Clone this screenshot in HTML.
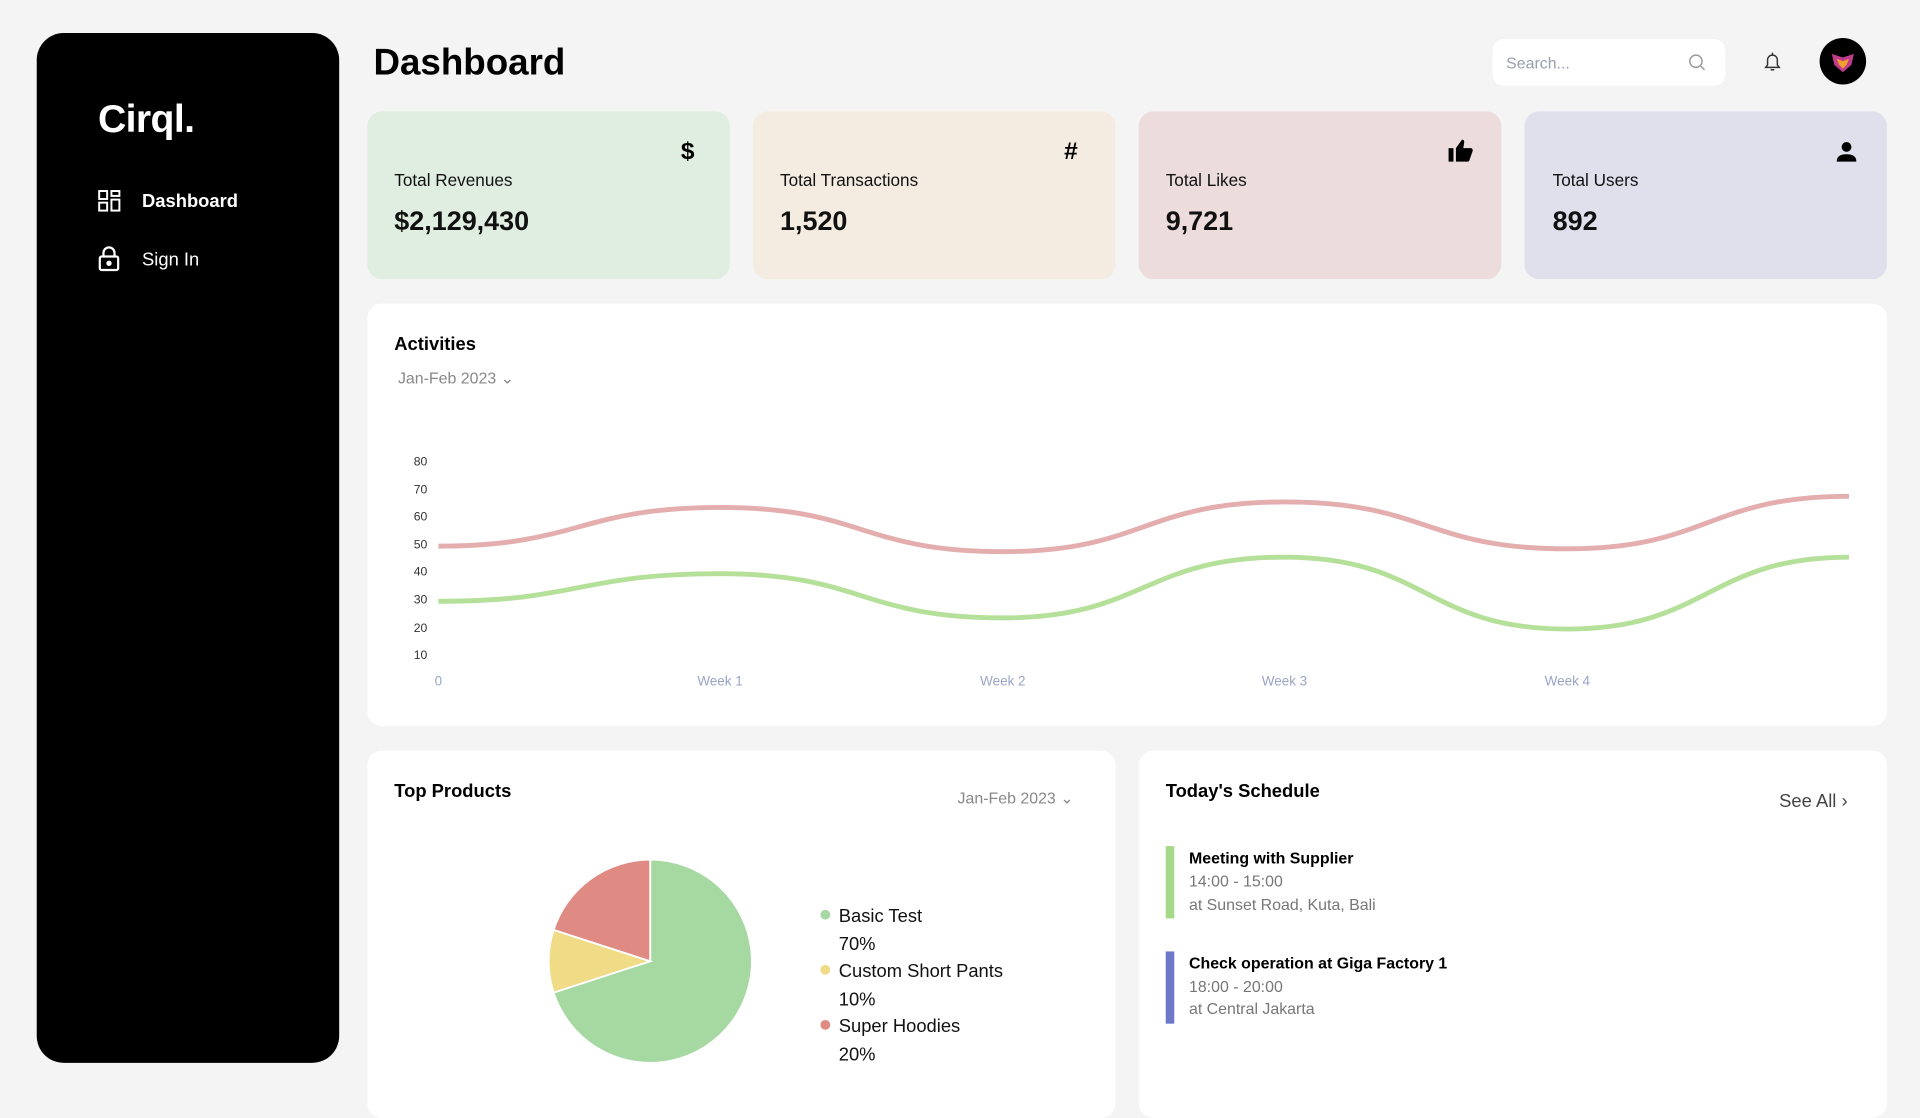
<!DOCTYPE html>
<html><head><meta charset="utf-8"><style>
html,body{margin:0;padding:0;width:1920px;height:1097px;overflow:hidden;background:#f4f4f4;font-family:"Liberation Sans",sans-serif}
#w{position:absolute;left:0;top:0;width:1568px;height:896px;transform:scale(1.22449);transform-origin:0 0}
.a{position:absolute;white-space:nowrap}
.card{position:absolute;border-radius:12px}
.t{font-size:14px;color:#111}
.v{font-size:22px;font-weight:bold;color:#111}
</style></head><body><div id="w">
<div class="card" style="left:30px;top:27px;width:247px;height:841px;background:#000;border-radius:22px"></div>
<div class="a" style="left:80px;top:79px;font-size:32px;font-weight:bold;color:#fff;letter-spacing:-0.5px">Cirql.</div>
<svg class="a" style="left:80px;top:155px" width="19" height="18" viewBox="0 0 19 18" fill="none" stroke="#fff" stroke-width="1.6"><rect x="1" y="1" width="6.5" height="6.5"/><rect x="11" y="1" width="6.5" height="4"/><rect x="1" y="10.5" width="6.5" height="6.5"/><rect x="11" y="8" width="6.5" height="9"/></svg>
<div class="a" style="left:116px;top:156px;font-size:15px;font-weight:bold;color:#fff">Dashboard</div>
<svg class="a" style="left:80px;top:201px" width="18" height="21" viewBox="0 0 18 21" fill="none" stroke="#fff" stroke-width="1.8"><rect x="1.5" y="8.5" width="15" height="11" rx="1.5"/><path d="M4.5 8.5V5.5a4.5 4.5 0 0 1 9 0v3"/><circle cx="9" cy="14" r="1.3" fill="#fff"/></svg>
<div class="a" style="left:116px;top:204px;font-size:15px;color:#fff">Sign In</div>

<div class="a" style="left:305px;top:35px;font-size:30px;font-weight:bold;color:#000">Dashboard</div>
<div class="card" style="left:1219px;top:32px;width:190px;height:38px;background:#fff;border-radius:9px"></div>
<div class="a" style="left:1230px;top:44px;font-size:13px;color:#9a9eab">Search...</div>
<svg class="a" style="left:1379px;top:44px" width="14" height="14" viewBox="0 0 14 14" fill="none" stroke="#999" stroke-width="1.2"><circle cx="6" cy="6" r="5"/><path d="M10 10l3 3"/></svg>
<svg class="a" style="left:1440px;top:42px" width="15" height="17" viewBox="0 0 15 17" fill="none" stroke="#333" stroke-width="1.2"><path d="M2 13h11l-1.5-2V7a4 4 0 0 0-8 0v4z"/><path d="M6 15h3"/><path d="M7.5 1v2"/></svg>
<div class="a" style="left:1486px;top:31px;width:38px;height:38px;border-radius:50%;background:#000"></div>
<svg class="a" style="left:1494px;top:40px" width="22" height="20" viewBox="0 0 22 20"><path d="M2 4l9 3 9-3-2 9-7 6-7-6z" fill="#c23a8a"/><path d="M6 8l5 2 5-2-2 5-3 3-3-3z" fill="#f0a030"/></svg>

<div class="card" style="left:300px;top:91px;width:296px;height:137px;background:#e0eee1"></div>
<div class="card" style="left:615px;top:91px;width:296px;height:137px;background:#f4ece0"></div>
<div class="card" style="left:930px;top:91px;width:296px;height:137px;background:#ecdcdc"></div>
<div class="card" style="left:1245px;top:91px;width:296px;height:137px;background:#dfe0ec"></div>
<div class="a" style="left:556px;top:113px;font-size:20px;font-weight:bold">$</div>
<div class="a" style="left:869px;top:113px;font-size:20px;font-weight:bold">#</div>
<svg class="a" style="left:1182px;top:113px" width="22" height="20" viewBox="0 0 22 20"><rect x="1" y="8" width="4" height="11"/><path d="M7 8l5-7c2 0 2 2 1.5 4L13 8h6c1.5 0 2 1.5 1.6 2.5L18 18c-.4 1-1 1-2 1H7z"/></svg>
<svg class="a" style="left:1499px;top:115px" width="18" height="18" viewBox="0 0 18 18"><circle cx="9" cy="5" r="4"/><path d="M1 17c0-5 4-6 8-6s8 1 8 6z"/></svg>
<div class="a t" style="left:322px;top:139px">Total Revenues</div>
<div class="a t" style="left:637px;top:139px">Total Transactions</div>
<div class="a t" style="left:952px;top:139px">Total Likes</div>
<div class="a t" style="left:1268px;top:139px">Total Users</div>
<div class="a v" style="left:322px;top:168px">$2,129,430</div>
<div class="a v" style="left:637px;top:168px">1,520</div>
<div class="a v" style="left:952px;top:168px">9,721</div>
<div class="a v" style="left:1268px;top:168px">892</div>

<div class="card" style="left:300px;top:248px;width:1241px;height:345px;background:#fff"></div>
<div class="a" style="left:322px;top:273px;font-size:15px;font-weight:bold">Activities</div>
<div class="a" style="left:325px;top:301px;font-size:13px;color:#888">Jan-Feb 2023 ⌄</div>
<svg class="a" style="left:0;top:0" width="1568" height="896">
<g font-family="Liberation Sans" font-size="10" fill="#333" text-anchor="end">
<text x="349" y="380">80</text><text x="349" y="403">70</text><text x="349" y="425">60</text><text x="349" y="448">50</text><text x="349" y="470">40</text><text x="349" y="493">30</text><text x="349" y="516">20</text><text x="349" y="538">10</text>
</g>
<g font-family="Liberation Sans" font-size="11" fill="#9aa3c8" text-anchor="middle">
<text x="358" y="560">0</text><text x="588" y="560">Week 1</text><text x="819" y="560">Week 2</text><text x="1049" y="560">Week 3</text><text x="1280" y="560">Week 4</text>
</g>
<path d="M358,446 C473,446 473,414.4 588.4,414.4 C703.6,414.4 703.6,450.5 818.8,450.5 C934,450.5 934,409.9 1049.2,409.9 C1164.4,409.9 1164.4,448.2 1279.6,448.2 C1394.8,448.2 1394.8,405.3 1510,405.3" fill="none" stroke="#e4aeae" stroke-width="4"/>
<path d="M358,491.1 C473,491.1 473,468.5 588.4,468.5 C703.6,468.5 703.6,504.6 818.8,504.6 C934,504.6 934,455 1049.2,455 C1164.4,455 1164.4,513.7 1279.6,513.7 C1394.8,513.7 1394.8,455 1510,455" fill="none" stroke="#b5e09a" stroke-width="4"/>
</svg>

<div class="card" style="left:300px;top:613px;width:611px;height:300px;background:#fff"></div>
<div class="card" style="left:930px;top:613px;width:611px;height:300px;background:#fff"></div>
<div class="a" style="left:322px;top:638px;font-size:15px;font-weight:bold">Top Products</div>
<div class="a" style="left:782px;top:644px;font-size:13px;color:#888">Jan-Feb 2023 ⌄</div>
<svg class="a" style="left:0;top:0" width="1568" height="896">
<g stroke="#fff" stroke-width="1.5">
<path d="M531,785 L531,702 A83,83 0 1 1 452.1,810.6 Z" fill="#a6d8a2"/>
<path d="M531,785 L452.1,810.6 A83,83 0 0 1 452.1,759.4 Z" fill="#f0db87"/>
<path d="M531,785 L452.1,759.4 A83,83 0 0 1 531,702 Z" fill="#e08a84"/>
</g>
<circle cx="674" cy="747" r="4" fill="#a6d8a2"/><circle cx="674" cy="792" r="4" fill="#f0db87"/><circle cx="674" cy="837" r="4" fill="#e08a84"/>
<g font-family="Liberation Sans" font-size="15" fill="#111">
<text x="685" y="753">Basic Test</text><text x="685" y="776">70%</text>
<text x="685" y="798">Custom Short Pants</text><text x="685" y="821">10%</text>
<text x="685" y="843">Super Hoodies</text><text x="685" y="866">20%</text>
</g>
</svg>
<div class="a" style="left:952px;top:638px;font-size:15px;font-weight:bold">Today's Schedule</div>
<div class="a" style="left:1453px;top:646px;font-size:15px;color:#444">See All ›</div>
<div class="a" style="left:952px;top:691px;width:7px;height:59px;background:#a6d88a"></div>
<div class="a" style="left:971px;top:693px;font-size:13px;font-weight:bold">Meeting with Supplier</div>
<div class="a" style="left:971px;top:712px;font-size:13px;color:#777">14:00 - 15:00</div>
<div class="a" style="left:971px;top:731px;font-size:13px;color:#777">at Sunset Road, Kuta, Bali</div>
<div class="a" style="left:952px;top:777px;width:7px;height:59px;background:#6e78c8"></div>
<div class="a" style="left:971px;top:779px;font-size:13px;font-weight:bold">Check operation at Giga Factory 1</div>
<div class="a" style="left:971px;top:798px;font-size:13px;color:#777">18:00 - 20:00</div>
<div class="a" style="left:971px;top:816px;font-size:13px;color:#777">at Central Jakarta</div>
</div></body></html>
